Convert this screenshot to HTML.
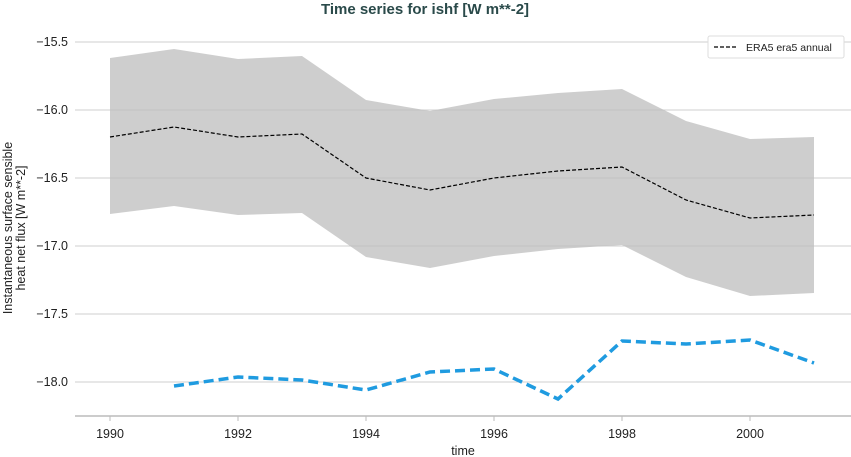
<!DOCTYPE html>
<html><head><meta charset="utf-8"><style>body{margin:0;background:#fff}svg{display:block}</style></head><body>
<svg width="851" height="457" xmlns="http://www.w3.org/2000/svg" font-family="Liberation Sans, sans-serif">
<text x="425" y="14" text-anchor="middle" font-size="15" font-weight="bold" fill="#2a4a4a">Time series for ishf [W m**-2]</text>
<g stroke="#cfcfcf" stroke-width="1">
<line x1="75" x2="851" y1="42" y2="42"/><line x1="75" x2="851" y1="110" y2="110"/><line x1="75" x2="851" y1="178" y2="178"/><line x1="75" x2="851" y1="246" y2="246"/><line x1="75" x2="851" y1="314" y2="314"/><line x1="75" x2="851" y1="382" y2="382"/>
</g>
<polygon fill="#bdbdbd" fill-opacity="0.75" points="110,58 174,49 238,59 302,56 366,100 430,111 494,99 558,93 622,89 686,121 750,139 814,137 814,293 750,296 686,277 622,245 558,249 494,256 430,268 366,257 302,213 238,215 174,206 110,214"/>
<polyline fill="none" stroke="#000" stroke-width="1.2" stroke-dasharray="4,2" points="110,137 174,127 238,137 302,134 366,178 430,190 494,178 558,171 622,167 686,200 750,218 814,215"/>
<polyline fill="none" stroke="#1f9be0" stroke-width="3.5" stroke-dasharray="10,5" points="174,386 238,377 302,380 366,390 430,372 494,369 558,399 622,341 686,344 750,340 814,363"/>
<line x1="75" x2="851" y1="416" y2="416" stroke="#bbb" stroke-width="1.5"/>
<g font-size="12.5" fill="#222" text-anchor="end">
<text x="68" y="46">−15.5</text><text x="68" y="114">−16.0</text><text x="68" y="182">−16.5</text><text x="68" y="250">−17.0</text><text x="68" y="318">−17.5</text><text x="68" y="386">−18.0</text>
</g>
<g stroke="#bbb"><line x1="110" x2="110" y1="416" y2="421"/><line x1="238" x2="238" y1="416" y2="421"/><line x1="366" x2="366" y1="416" y2="421"/><line x1="494" x2="494" y1="416" y2="421"/><line x1="622" x2="622" y1="416" y2="421"/><line x1="750" x2="750" y1="416" y2="421"/></g>
<g font-size="12.5" fill="#222" text-anchor="middle">
<text x="110" y="438">1990</text><text x="238" y="438">1992</text><text x="366" y="438">1994</text><text x="494" y="438">1996</text><text x="622" y="438">1998</text><text x="750" y="438">2000</text>
<text x="463" y="455">time</text>
</g>
<text transform="translate(12,228) rotate(-90)" text-anchor="middle" font-size="12.5" fill="#222">Instantaneous surface sensible</text>
<text transform="translate(25,228) rotate(-90)" text-anchor="middle" font-size="12.5" fill="#222">heat net flux [W m**-2]</text>
<rect x="708" y="36" width="136" height="22" rx="2" fill="#fff" stroke="#ddd"/>
<line x1="714" x2="738" y1="47" y2="47" stroke="#000" stroke-width="1.2" stroke-dasharray="4,2"/>
<text x="746" y="51" font-size="10.5" fill="#222">ERA5 era5 annual</text>
</svg>
</body></html>
